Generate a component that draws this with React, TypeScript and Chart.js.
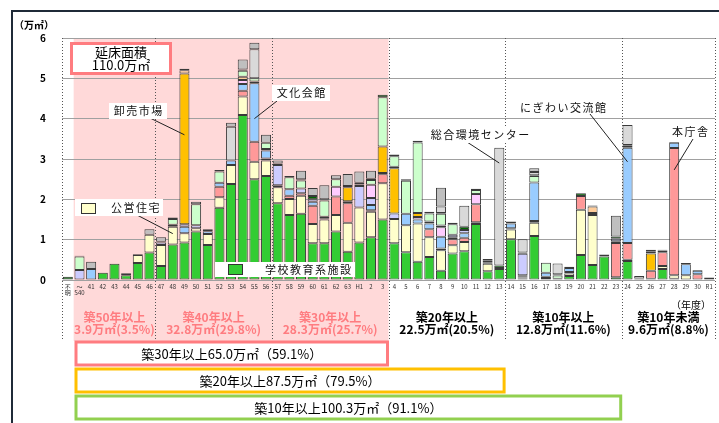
import React, { useEffect, useRef } from "react";
import { Chart, registerables } from "chart.js";

Chart.register(...registerables);

const JP = "'Noto Sans CJK JP', 'Noto Sans', sans-serif";

const categories: (string | string[])[] = [
  ["不", "明"], ["～", "S40"],
  "41", "42", "43", "44", "45", "46", "47", "48", "49", "50", "51", "52", "53", "54", "55", "56", "57", "58", "59", "60", "61", "62", "63",
  "H1", "2", "3", "4", "5", "6", "7", "8", "9", "10", "11", "12", "13", "14", "15", "16", "17", "18", "19", "20", "21", "22", "23", "24", "25", "26", "27", "28", "29", "30", "R1",
];

const school = [0, 0, 0, .18, .4, .12, .42, .68, .35, .88, .93, 1.2, .87, 1.79, 2.38, 4.09, 2.5, 2.58, 1.9, 1.61, 1.64, .91, .91, 1.2, .7, .93, 1.06, 1.5, .91, .69, .45, .57, .23, .66, .71, 1.39, .22, .27, 1.01, .04, 1.09, .05, .03, .1, .62, .37, .58, .07, .47, 0, 0, .27, .03, 0, 0, 0];
const housing = [0, 0, 0, 0, 0, 0, .2, .44, .52, .44, .23, .08, .27, .26, .47, .46, .43, .38, .4, .4, .45, .48, .59, .41, .72, .87, .63, .9, .6, .67, .95, .49, .51, .2, .23, .04, .18, 0, .24, .02, .33, .03, 0, .06, 1.12, 1.24, 0, 0, .03, 0, .03, .08, .09, .12, 0, 0];
const admin = [0, 0, 0, 0, 0, 0, 0, 0, 0, .05, 0, 0, 0, .26, 0, .14, .5, .05, 0, .08, .06, .45, 0, .46, .48, 0, .04, .22, 0, 0, 0, .2, .04, .15, .11, .45, .04, 0, .03, .03, .04, 0, 0, .04, .34, 0, 0, .85, .42, 0, .2, .34, 3.15, 0, .14, 0];
const culture = [0, 0, .27, 0, 0, 0, 0, 0, 0, 0, .16, 0, .07, .1, .11, .17, 1.45, .2, .05, .16, 0, .1, .03, 0, .05, 0, .13, 0, 0, .28, .1, .14, .29, .05, .11, 0, 0, 0, .12, .03, .96, .1, 0, .1, 0, .05, 0, .04, 2.36, 0, 0, 0, .13, .27, .09, .06];
const child = [0, .25, 0, 0, 0, 0, 0, 0, .06, 0, .06, .08, 0, 0, 0, 0, 0, 0, .5, 0, .12, .06, 0, 0, 0, .53, .17, .03, .14, 0, 0, 0, 0, .06, .08, 0, 0, 0, 0, .53, 0, 0, 0, 0, 0, 0, 0, .06, 0, 0, 0, 0, 0, 0, 0, 0];
const welfare = [0, 0, 0, 0, 0, 0, 0, 0, 0, 0, 0, 0, 0, 0, 0, .1, 0, 0, 0, 0, 0, 0, 0, .24, 0, 0, .33, 0, 0, 0, .06, 0, .24, 0, 0, .25, 0, 0, 0, 0, 0, 0, 0, 0, 0, 0, 0, 0, 0, 0, 0, 0, 0, 0, 0, 0];
const industry = [0, 0, 0, 0, 0, 0, 0, 0, 0, 0, 3.74, 0, 0, 0, 0, 0, 0, .04, 0, 0, 0, 0, 0, 0, .35, 0, 0, .66, 1.12, 0, .1, 0, 0, 0, 0, 0, 0, 0, 0, 0, 0, 0, 0, 0, 0, 0, 0, 0, 0, .04, .43, 0, 0, 0, 0, 0];
const socialEdu = [0, 0, 0, 0, 0, .03, 0, 0, 0, 0, .08, 0, 0, 0, 0, .08, .04, 0, 0, 0, 0, 0, .04, 0, 0, 0, 0, 0, .04, 0, 0, .05, .04, 0, 0, 0, .04, 0, 0, .03, 0, 0, 0, 0, 0, .16, 0, 0, .05, 0, .04, .04, 0, 0, 0, 0];
const sports = [0, .33, 0, 0, 0, 0, 0, 0, 0, .14, 0, .52, 0, .28, 0, .15, .08, .15, 0, .3, .2, 0, .4, .19, 0, .04, .12, 1.22, .26, .82, 1.75, .2, .29, .26, 0, .1, 0, .03, 0, 0, .16, .25, .08, 0, 0, 0, 0, 0, 0, 0, .05, 0, 0, 0, 0, 0];
const parks = [.08, .02, 0, 0, 0, .02, .02, 0, .02, .04, .04, 0, .05, 0, 0, .03, 0, 0, .04, .03, .03, .08, .03, 0, .03, .04, .03, .06, .04, .04, .04, .04, .02, .04, .08, .03, .04, .06, .05, 0, .02, 0, .03, .03, .07, .03, .05, .06, .02, 0, 0, .02, .02, .03, .02, 0];
const supply = [0, 0, 0, 0, 0, 0, 0, 0, 0, 0, 0, 0, 0, 0, .84, 0, .72, 0, 0, 0, 0, 0, 0, 0, 0, 0, 0, 0, 0, 0, 0, 0, .16, 0, .52, 0, 0, 2.92, 0, .33, .08, 0, .27, 0, 0, 0, 0, 0, .49, .06, 0, 0, 0, 0, 0, 0];
const other = [0, 0, .18, 0, 0, 0, 0, .14, .11, 0, 0, .06, 0, .04, .1, .25, .16, .2, .07, 0, .21, .2, .35, .1, .3, .28, .2, 0, 0, 0, 0, 0, .47, 0, 0, 0, 0, 0, 0, 0, .09, 0, 0, 0, 0, 0, 0, .51, 0, 0, 0, 0, 0, 0, 0, 0];

const seriesNames = ["学校教育系施設", "公営住宅", "行政系施設", "市民文化系施設", "子育て支援施設", "保健・福祉施設", "産業系施設", "社会教育系施設", "スポーツ・レクリエーション系施設", "公園", "供給処理施設", "その他"];
const seriesData = [school, housing, admin, culture, child, welfare, industry, socialEdu, sports, parks, supply, other];
const seriesColors = ["#33CC33", "#FFFFCC", "#FF9999", "#99CCFF", "#CCCCFF", "#FFCCFF", "#FFC000", "#FFCC99", "#CCFFCC", "#006600", "#D9D9D9", "#BFBFBF"];

const yTicks = [0, 1, 2, 3, 4, 5, 6];

const periodTitles = ["築50年以上", "築40年以上", "築30年以上", "築20年以上", "築10年以上", "築10年未満"];
const periodAmounts = ["3.9万㎡(3.5%)", "32.8万㎡(29.8%)", "28.3万㎡(25.7%)", "22.5万㎡(20.5%)", "12.8万㎡(11.6%)", "9.6万㎡(8.8%)"];
const periodStart = [1, 8, 18, 28, 38, 48];
const periodEnd = [7, 17, 27, 37, 47, 55];

const cumulativeLabels = ["築30年以上65.0万㎡（59.1%）", "築20年以上87.5万㎡（79.5%）", "築10年以上100.3万㎡（91.1%）"];
const cumulativeEnd = [27, 37, 47];
const cumulativeColors = ["#FF7C80", "#FFC000", "#92D050"];

const totalTitle = "延床面積";
const totalValue = "110.0万㎡";

export default function App() {
  const ref = useRef<HTMLCanvasElement | null>(null);

  useEffect(() => {
    if (!ref.current) return;
    const n = categories.length;

    const overlay = {
      id: "overlay",
      beforeDraw(chart: any) {
        const { ctx, chartArea: ca, scales } = chart;
        const xs = scales.x;
        const bnd = (i: number) => (i < 0 ? ca.left : i >= n - 1 ? ca.right : (xs.getPixelForValue(i) + xs.getPixelForValue(i + 1)) / 2);
        ctx.save();
        ctx.fillStyle = "#FFD9D9";
        const x0 = bnd(0), x1 = bnd(27);
        ctx.fillRect(x0, ca.top, x1 - x0, 341 - ca.top);
        ctx.restore();
      },
      beforeDatasetsDraw(chart: any) {
        const { ctx, chartArea: ca, scales } = chart;
        const xs = scales.x;
        const bnd = (i: number) => (i < 0 ? ca.left : i >= n - 1 ? ca.right : (xs.getPixelForValue(i) + xs.getPixelForValue(i + 1)) / 2);
        ctx.save();
        ctx.strokeStyle = "#555";
        ctx.lineWidth = 1;
        ctx.setLineDash([1, 2]);
        const lines = [-1, 7, 17, 27, 37, 47, n - 1];
        lines.forEach((i) => {
          const x = Math.round(bnd(i)) + 0.5;
          ctx.beginPath();
          ctx.moveTo(x, ca.top);
          ctx.lineTo(x, 341);
          ctx.stroke();
        });
        ctx.restore();
      },
      afterDraw(chart: any) {
        const { ctx, chartArea: ca, scales } = chart;
        const xs = scales.x, ys = scales.y;
        const px = (i: number) => xs.getPixelForValue(i);
        const py = (v: number) => ys.getPixelForValue(v);
        const bnd = (i: number) => (i < 0 ? ca.left : i >= n - 1 ? ca.right : (px(i) + px(i + 1)) / 2);
        ctx.save();
        // frame
        ctx.strokeStyle = "#1F2A38";
        ctx.lineWidth = 2;
        ctx.beginPath();
        ctx.moveTo(12, 423);
        ctx.lineTo(12, 11);
        ctx.lineTo(719, 11);
        ctx.stroke();

        // unit label
        ctx.fillStyle = "#000";
        ctx.font = `bold 10px ${JP}`;
        ctx.textAlign = "left";
        ctx.textBaseline = "middle";
        ctx.fillText("（万㎡）", 14, 25);

        // year label
        ctx.font = `10px ${JP}`;
        ctx.textAlign = "center";
        ctx.fillText("（年度）", 691, 305);

        // period labels
        ctx.font = `bold 12px ${JP}`;
        periodTitles.forEach((t, k) => {
          const cx = (bnd(periodStart[k] - 1) + bnd(periodEnd[k])) / 2;
          ctx.fillStyle = k < 3 ? "#FF7C80" : "#000";
          ctx.fillText(t, cx, 317);
          ctx.fillText(periodAmounts[k], cx, 329);
        });

        // cumulative boxes
        const boxTops = [342, 369, 396];
        ctx.font = `13px ${JP}`;
        cumulativeLabels.forEach((t, k) => {
          const left = 76;
          const right = bnd(cumulativeEnd[k]) - 1;
          ctx.fillStyle = "#fff";
          ctx.fillRect(left, boxTops[k], right - left, 23);
          ctx.strokeStyle = cumulativeColors[k];
          ctx.lineWidth = 3;
          ctx.setLineDash([]);
          ctx.strokeRect(left, boxTops[k], right - left, 23);
          ctx.fillStyle = "#000";
          ctx.fillText(t, (left + right) / 2, boxTops[k] + 12);
        });

        // total box
        ctx.fillStyle = "#fff";
        ctx.fillRect(71.5, 43.5, 99, 30);
        ctx.strokeStyle = "#FF7C80";
        ctx.lineWidth = 3;
        ctx.strokeRect(71.5, 43.5, 99, 30);
        ctx.fillStyle = "#000";
        ctx.font = `13px ${JP}`;
        ctx.fillText(totalTitle, 121, 52.5);
        ctx.fillText(totalValue, 121, 65.5);

        // callouts
        const callouts = [
          { text: "卸売市場", tx: 138, ty: 111, fx: 150, fy: 118, cat: 10, val: 3.6, bg: true },
          { text: "文化会館", tx: 301, ty: 93, fx: 277, fy: 101, cat: 16, val: 4.0, bg: true },
          { text: "総合環境センター", tx: 480, ty: 135, fx: 467, fy: 142, cat: 37, val: 2.9, bg: true },
          { text: "にぎわい交流館", tx: 563, ty: 108, fx: 590, fy: 114, cat: 48, val: 2.93, bg: false },
          { text: "本庁舎", tx: 690, ty: 132, fx: 693, fy: 139, cat: 52, val: 2.73, bg: false },
        ];
        ctx.font = `11px ${JP}`;
        (ctx as any).letterSpacing = "1.5px";
        callouts.forEach((c) => {
          ctx.strokeStyle = "#222";
          ctx.lineWidth = 1;
          ctx.beginPath();
          ctx.moveTo(c.fx, c.fy);
          ctx.lineTo(px(c.cat), py(c.val));
          ctx.stroke();
          const w = ctx.measureText(c.text).width;
          if (c.bg) {
            ctx.fillStyle = "#fff";
            ctx.fillRect(c.tx - w / 2 - 4, c.ty - 8, w + 8, 16);
          }
          ctx.fillStyle = "#111";
          ctx.fillText(c.text, c.tx + 0.75, c.ty);
        });

        // housing legend callout
        ctx.strokeStyle = "#222";
        ctx.beginPath();
        ctx.moveTo(137, 215);
        ctx.lineTo(px(9), py(1.15));
        ctx.stroke();
        ctx.fillStyle = "#fff";
        ctx.fillRect(75, 199, 88, 17);
        ctx.fillStyle = seriesColors[1];
        ctx.fillRect(81, 203, 15, 11);
        ctx.strokeStyle = "#333";
        ctx.strokeRect(81.5, 203.5, 14, 10);
        ctx.fillStyle = "#111";
        ctx.textAlign = "left";
        ctx.fillText(seriesNames[1], 111, 208);

        // school legend
        ctx.fillStyle = "#fff";
        ctx.fillRect(215, 262, 140, 15);
        ctx.fillStyle = seriesColors[0];
        ctx.fillRect(228, 264, 15, 11);
        ctx.strokeStyle = "#333";
        ctx.strokeRect(228.5, 264.5, 14, 10);
        ctx.fillStyle = "#111";
        ctx.fillText(seriesNames[0], 265, 270);
        (ctx as any).letterSpacing = "0px";
        ctx.restore();
      },
    };

    const chart = new Chart(ref.current, {
      type: "bar",
      data: {
        labels: categories as any,
        datasets: seriesData.map((arr, k) => ({
          label: seriesNames[k],
          data: arr.map((v) => (v === 0 ? null : v)),
          backgroundColor: seriesColors[k],
          borderColor: "#3A3A3A",
          borderWidth: 1,
          borderSkipped: false,
          barPercentage: 0.86,
          categoryPercentage: 1,
        })),
      },
      options: {
        animation: false,
        responsive: false,
        devicePixelRatio: 1,
        layout: { padding: { top: 38, right: 4, left: 0, bottom: 0 } },
        plugins: { legend: { display: false }, tooltip: { enabled: false } },
        scales: {
          x: {
            stacked: true,
            grid: { display: false, drawTicks: false },
            border: { display: false },
            ticks: {
              autoSkip: false,
              maxRotation: 0,
              minRotation: 0,
              padding: 3,
              color: "#333",
              font: { size: 6, family: JP, lineHeight: 1.1 },
            },
            afterFit: (s: any) => {
              s.height = 143;
            },
          },
          y: {
            stacked: true,
            min: 0,
            max: 6,
            afterBuildTicks: (s: any) => {
              s.ticks = yTicks.map((v) => ({ value: v }));
            },
            grid: { color: "#A0A0A0", drawTicks: false, lineWidth: 1 },
            border: { display: false },
            ticks: {
              padding: 16,
              color: "#000",
              font: { size: 10, weight: "bold", family: JP },
            },
            afterFit: (s: any) => {
              s.width = 62;
            },
          },
        },
      },
      plugins: [overlay],
    });
    return () => chart.destroy();
  }, []);

  return (
    <div style={{ position: "absolute", left: 0, top: 0, width: 719, height: 423, background: "#fff" }}>
      <canvas ref={ref} width={719} height={423} style={{ display: "block" }} />
    </div>
  );
}
